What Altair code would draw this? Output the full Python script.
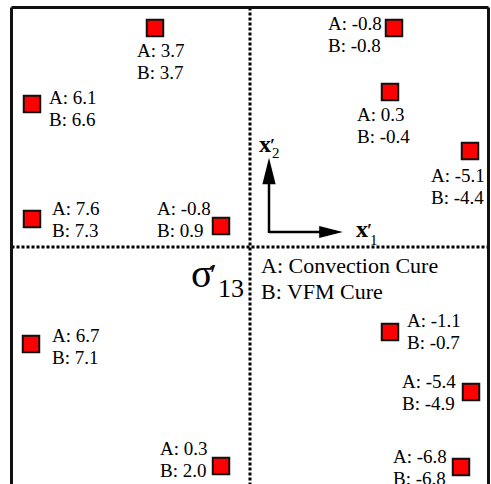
import altair as alt
import pandas as pd

W, H = 491, 484

# point data (positions on the specimen sketch, in picture units) and their values
sq_x = [155, 32, 32, 221, 394, 390, 470, 31, 221, 390, 471, 461]
sq_y = [28, 104, 219, 226, 28, 92, 151, 344, 466, 332, 392, 467]
val_a = ["3.7", "6.1", "7.6", "-0.8", "-0.8", "0.3", "-5.1", "6.7", "0.3", "-1.1", "-5.4", "-6.8"]
val_b = ["3.7", "6.6", "7.3", "0.9", "-0.8", "-0.4", "-4.4", "7.1", "2.0", "-0.7", "-4.9", "-6.8"]
label_x = [137, 49, 52, 157, 328, 357, 431, 52, 160, 407, 402, 393]
label_y = [57, 104, 215, 215, 30, 121, 182, 342, 455, 327, 388, 463]
legend_lines = ["A: Convection Cure", "B: VFM Cure"]

LINE_GAP = 21.5
LABEL_FONT = "Liberation Serif"

xs = alt.Scale(domain=[0, W], nice=False, zero=False)
ys = alt.Scale(domain=[0, H], reverse=True, nice=False, zero=False)


def X(f):
    return alt.X(f, type="quantitative", scale=xs, axis=None)


def Y(f):
    return alt.Y(f, type="quantitative", scale=ys, axis=None)


pts = pd.DataFrame({"x": sq_x, "y": sq_y})
labels = pd.DataFrame({
    "x": label_x + label_x,
    "y": label_y + [v + LINE_GAP for v in label_y],
    "t": ["A: " + a for a in val_a] + ["B: " + b for b in val_b],
})

# frame (open at bottom)
frame = pd.DataFrame({
    "x": [11.5, 11.5, 488.5], "y": [7.5, 7.5, 7.5],
    "x2": [11.5, 488.5, 488.5], "y2": [495, 7.5, 495],
})
frame_l = alt.Chart(frame).mark_rule(color="#111111", strokeWidth=3).encode(
    x=X("x"), y=Y("y"), x2="x2", y2="y2")

divs = pd.DataFrame({"x": [250, 11.5], "y": [7.5, 247], "x2": [250, 488.5], "y2": [495, 247]})
div_l = alt.Chart(divs).mark_rule(color="#000000", strokeWidth=3, strokeDash=[3, 2]).encode(
    x=X("x"), y=Y("y"), x2="x2", y2="y2")

# axes arrows
arr = pd.DataFrame({"x": [269, 269], "y": [233, 232], "x2": [269, 322], "y2": [182, 232]})
arr_l = alt.Chart(arr).mark_rule(color="#000000", strokeWidth=2.5).encode(
    x=X("x"), y=Y("y"), x2="x2", y2="y2")
head_up = alt.Chart(pd.DataFrame({"x": [269], "y": [171]})).mark_point(
    shape="M0,-1L0.5,1L-0.5,1Z", size=700, filled=True, color="#000000", opacity=1
).encode(x=X("x"), y=Y("y"))
head_rt = alt.Chart(pd.DataFrame({"x": [331], "y": [232]})).mark_point(
    shape="M1,0L-1,-0.5L-1,0.5Z", size=560, filled=True, color="#000000", opacity=1
).encode(x=X("x"), y=Y("y"))

squares = alt.Chart(pts).mark_square(
    size=272, fill="#ff0000", stroke="#111111", strokeWidth=2, opacity=1
).encode(x=X("x"), y=Y("y"))

label_l = alt.Chart(labels).mark_text(
    font=LABEL_FONT, fontSize=19, align="left", baseline="alphabetic", color="#000000"
).encode(x=X("x"), y=Y("y"), text="t:N")

legend_df = pd.DataFrame({"x": [261, 261], "y": [273, 299], "t": legend_lines})
legend_l = alt.Chart(legend_df).mark_text(
    font=LABEL_FONT, fontSize=22, align="left", baseline="alphabetic", color="#000000"
).encode(x=X("x"), y=Y("y"), text="t:N")


def glyph(t, x, y, size, weight="normal", font="Liberation Serif"):
    return alt.Chart(pd.DataFrame({"x": [x], "y": [y], "t": [t]})).mark_text(
        font=font, fontSize=size, fontWeight=weight, align="left",
        baseline="alphabetic", color="#000000"
    ).encode(x=X("x"), y=Y("y"), text="t:N")


sigma = glyph("σ", 191, 287, 40)
sigma_p = glyph("′", 210, 284, 30)
sigma_s = glyph("13", 218, 297, 26)

x2_main = glyph("x", 259, 152, 24, "bold")
x2_p = glyph("′", 270, 152, 18, "bold")
x2_s = glyph("2", 272, 158, 15)
x1_main = glyph("x", 356, 237, 24, "bold")
x1_p = glyph("′", 367, 237, 18, "bold")
x1_s = glyph("1", 370, 245, 15)

chart = alt.layer(
    div_l, frame_l, arr_l, head_up, head_rt, squares, label_l, legend_l,
    sigma, sigma_p, sigma_s, x2_main, x2_p, x2_s, x1_main, x1_p, x1_s
).properties(
    width=W, height=H, padding=0, autosize=alt.AutoSizeParams(type="none"),
    background="#ffffff"
).configure_view(stroke=None)

chart.save("out.html", embed_options={"renderer": "svg", "actions": False})
